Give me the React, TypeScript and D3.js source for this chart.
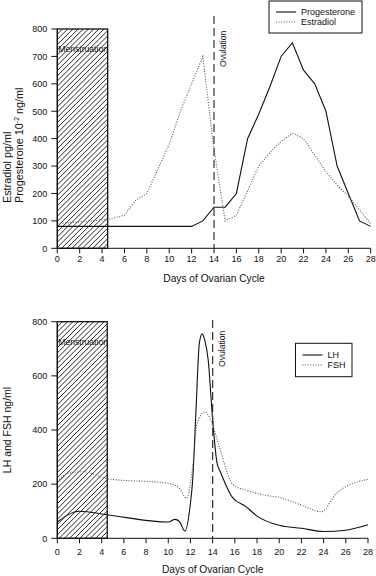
import React from "react";
import * as d3 from "d3";

const progDays = [0, 12, 13, 14, 15, 16, 17, 18, 19, 20, 21, 22, 23, 24, 25, 26, 27, 28];
const progVals = [80, 80, 100, 150, 150, 200, 400, 490, 590, 700, 750, 650, 600, 500, 300, 200, 100, 80];

const estDays = [0, 4.5, 6, 7, 8, 9, 10, 11, 12, 13, 14, 15, 16, 17, 18, 19, 20, 21, 22, 23, 24, 25, 26, 27, 28];
const estVals = [90, 105, 120, 175, 200, 290, 380, 500, 600, 700, 360, 100, 120, 210, 300, 350, 390, 420, 400, 340, 280, 230, 190, 140, 90];

const lhDays = [0, 2, 4.5, 10, 10.6, 11, 11.5, 12, 12.2, 12.5, 12.8, 13.05, 13.3, 13.6, 14, 14.4, 14.7, 15.8, 17, 18, 20, 22, 24, 26, 28];
const lhVals = [60, 100, 87, 60, 70, 62, 27, 130, 215, 474, 720, 755, 730, 658, 437, 277, 245, 150, 117, 82, 48, 37, 25, 30, 50];

const fshDays = [0, 1, 2.3, 4.5, 10, 11, 11.65, 12.2, 12.6, 13.3, 14, 14.6, 15.86, 17, 18.6, 20, 22, 23.8, 25.2, 28];
const fshVals = [210, 240, 246, 220, 203, 185, 148, 264, 425, 467, 418, 338, 197, 178, 160, 151, 123, 98, 168, 218];

const xTicks = [0, 2, 4, 6, 8, 10, 12, 14, 16, 18, 20, 22, 24, 26, 28];
const yTicksTop = [0, 100, 200, 300, 400, 500, 600, 700, 800];
const yTicksBottom = [0, 200, 400, 600, 800];

const menstruationEnd = 4.5;
const ovulationDay = 14;

const FONT = "'Liberation Sans', Arial, sans-serif";

type Series = { days: number[]; vals: number[]; dotted: boolean };

function Panel(props: {
  x0: number; x1: number; y0: number; y1: number;
  yTicks: number[]; series: Series[]; curve: any;
  ovTop: number; legend: { x: number; y: number; w: number; h: number; labels: string[] };
  yTitle: React.ReactNode; xTitleY: number; tickLabelY: number; menY: number; ovTextBottom: number;
  id: string;
}) {
  const { x0, x1, y0, y1, yTicks, series, curve, legend } = props;
  const x = d3.scaleLinear().domain([0, 28]).range([x0, x1]);
  const y = d3.scaleLinear().domain([0, 800]).range([y0, y1]);
  const line = d3.line<[number, number]>().x(d => x(d[0])).y(d => y(d[1])).curve(curve);
  const hx0 = x(0), hx1 = x(menstruationEnd);
  const hatch: React.ReactNode[] = [];
  const step = 5.2;
  const h = y0 - y1;
  for (let c = hx0 - h; c < hx1; c += step) {
    hatch.push(<line key={c} x1={c} y1={y0} x2={c + h} y2={y1} stroke="#000" strokeWidth={0.85} />);
  }
  return (
    <g>
      <clipPath id={"clip" + props.id}>
        <rect x={hx0} y={y1} width={hx1 - hx0} height={h} />
      </clipPath>
      <rect x={hx0} y={y1} width={hx1 - hx0} height={h} fill="white" />
      <g clipPath={`url(#clip${props.id})`}>{hatch}</g>
      <rect x={hx0} y={y1} width={hx1 - hx0} height={h} fill="none" stroke="#111" strokeWidth={1.3} />
      <text x={hx0 + 1} y={props.menY} fontSize={8.6} fontFamily={FONT} fill="#111">Menstruation</text>
      {series.map((s, i) => (
        <path key={i} d={line(s.days.map((dd, j) => [dd, s.vals[j]]) as any) || ""} fill="none"
          stroke={s.dotted ? "#555" : "#111"} strokeWidth={1.1}
          strokeDasharray={s.dotted ? "1,1.6" : undefined} />
      ))}
      <line x1={x(ovulationDay)} x2={x(ovulationDay)} y1={props.ovTop} y2={y0} stroke="#333" strokeWidth={1.2} strokeDasharray="8,4" />
      <text transform={`translate(${x(ovulationDay) + 12},${props.ovTextBottom}) rotate(-90)`} fontSize={8.6} fontFamily={FONT} fill="#111">Ovulation</text>
      <line x1={x0} x2={x0} y1={y0} y2={y1} stroke="#111" strokeWidth={1} />
      <line x1={x0} x2={x1} y1={y0} y2={y0} stroke="#111" strokeWidth={1} />
      {yTicks.map(t => (
        <g key={t}>
          <line x1={x0 - 6} x2={x0} y1={y(t)} y2={y(t)} stroke="#111" />
          <text x={x0 - 10} y={y(t) + 3.3} textAnchor="end" fontSize={9} fontFamily={FONT} fill="#111">{t}</text>
        </g>
      ))}
      {xTicks.map(t => (
        <g key={t}>
          <line x1={x(t)} x2={x(t)} y1={y0} y2={y0 + 5} stroke="#111" />
          <text x={x(t)} y={props.tickLabelY} textAnchor="middle" fontSize={9} fontFamily={FONT} fill="#111">{t}</text>
        </g>
      ))}
      <text x={(x0 + x1) / 2} y={props.xTitleY} textAnchor="middle" fontSize={10.2} fontFamily={FONT} fill="#111">Days of Ovarian Cycle</text>
      {props.yTitle}
      <rect x={legend.x} y={legend.y} width={legend.w} height={legend.h} fill="white" stroke="#111" strokeWidth={1} />
      {legend.labels.map((lab, i) => {
        const ly = legend.y + legend.h / 2 + (i === 0 ? -5 : 5);
        return (
          <g key={lab}>
            <line x1={legend.x + 7} x2={legend.x + 27} y1={ly} y2={ly} stroke={i === 0 ? "#111" : "#555"}
              strokeWidth={1.1} strokeDasharray={i === 0 ? undefined : "1,1.6"} />
            <text x={legend.x + 32} y={ly + 3.2} fontSize={9} fontFamily={FONT} fill="#111">{lab}</text>
          </g>
        );
      })}
    </g>
  );
}

export default function App() {
  const topY0 = 248.3, topY1 = 29;
  const botY0 = 538.3, botY1 = 321.7;
  return (
    <svg width={376} height={576} style={{ position: "fixed", left: 0, top: 0, background: "white" }}>
      <rect width={376} height={576} fill="white" />
      <Panel id="a" x0={57.3} x1={370.7} y0={topY0} y1={topY1}
        yTicks={yTicksTop}
        series={[{ days: progDays, vals: progVals, dotted: false }, { days: estDays, vals: estVals, dotted: true }]}
        curve={d3.curveLinear} ovTop={16}
        legend={{ x: 269, y: 1, w: 93, h: 32, labels: ["Progesterone", "Estradiol"] }}
        tickLabelY={262} xTitleY={282} menY={52} ovTextBottom={67}
        yTitle={
          <g>
            <text transform={`translate(11,203) rotate(-90)`} textAnchor="start" fontSize={10.8} fontFamily={FONT} fill="#111">Estradiol pg/ml</text>
            <text transform={`translate(23,203) rotate(-90)`} textAnchor="start" fontSize={10.8} fontFamily={FONT} fill="#111">
              Progesterone 10<tspan fontSize={7} dy={-4}>-2</tspan><tspan dy={4}> ng/ml</tspan>
            </text>
          </g>
        }
      />
      <Panel id="b" x0={57.3} x1={368} y0={botY0} y1={botY1}
        yTicks={yTicksBottom}
        series={[{ days: lhDays, vals: lhVals, dotted: false }, { days: fshDays, vals: fshVals, dotted: true }]}
        curve={d3.curveMonotoneX} ovTop={320}
        legend={{ x: 295.5, y: 343.3, w: 56.5, h: 33.4, labels: ["LH", "FSH"] }}
        tickLabelY={555} xTitleY={573} menY={345} ovTextBottom={367}
        yTitle={
          <text transform={`translate(11,430) rotate(-90)`} textAnchor="middle" fontSize={10.5} fontFamily={FONT} fill="#111">LH and FSH ng/ml</text>
        }
      />
    </svg>
  );
}
